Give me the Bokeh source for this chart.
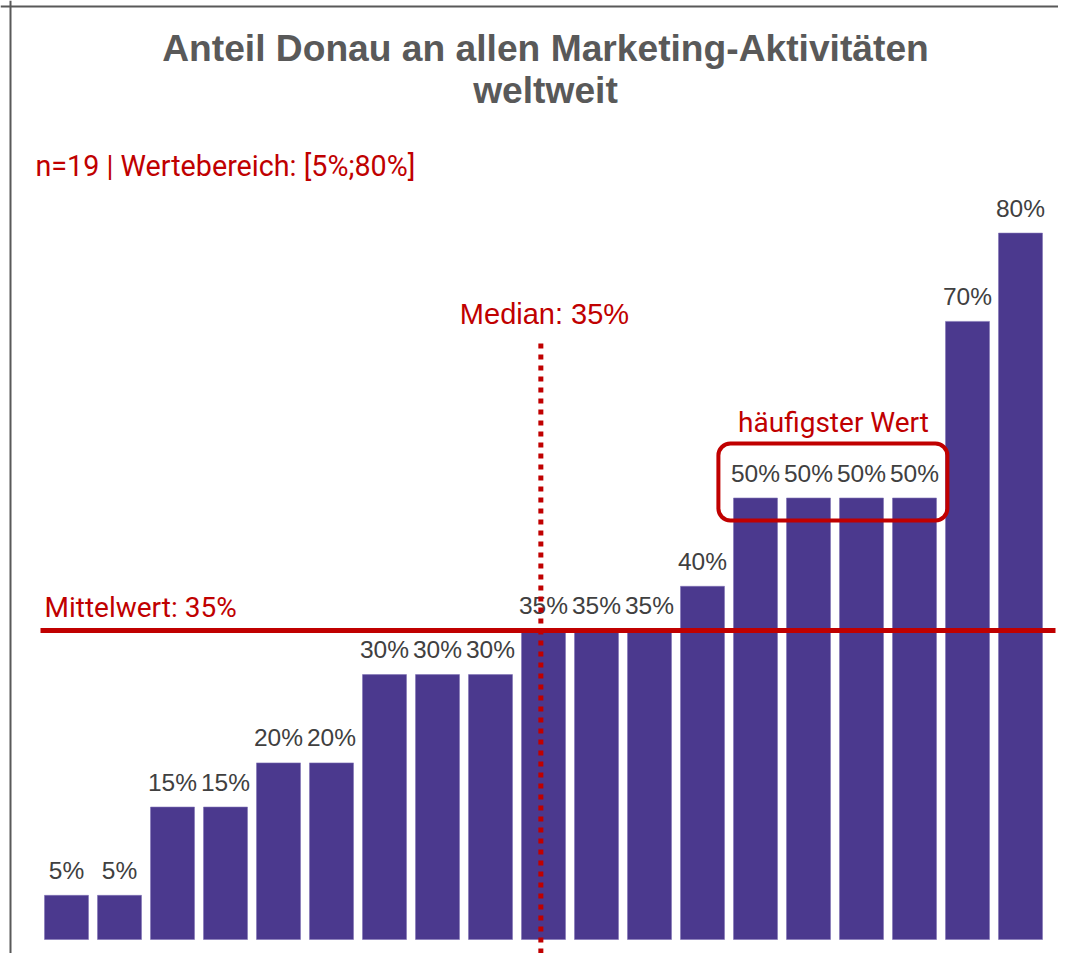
from bokeh.plotting import figure
from bokeh.models import Range1d, Label, BoxAnnotation, Span
from bokeh.core.properties import value
from bokeh.embed import file_html
from bokeh.resources import INLINE

# ---- data ----
values = [5, 5, 15, 15, 20, 20, 30, 30, 30, 35, 35, 35, 40, 50, 50, 50, 50, 70, 80]
positions = list(range(len(values)))
value_labels = [f"{v}%" for v in values]
title_lines = ["Anteil Donau an allen Marketing-Aktivitäten", "weltweit"]
mode_label = "häufigster Wert"

n = len(values)
mean_val = sum(values) / n
median_val = sorted(values)[n // 2]
mode_val = max(set(values), key=values.count)
mode_idx = [i for i, v in enumerate(values) if v == mode_val]

# ---- styling ----
PURPLE = "#4B398E"
RED = "#C00000"
GREY = "#595959"
LABEL_GREY = "#404040"

W, H = 1058, 953
PX_PER_X = 53.0
PX_PER_Y = 8.83
X0 = -66.0 / PX_PER_X      # data x at left edge of plot
BASE_PX = 939.0            # baseline pixel from top

def xd(px):
    return X0 + px / PX_PER_X

def yd(py):
    return (BASE_PX - py) / PX_PER_Y

def yt(py, fs):
    # text baseline correction
    return yd(py - 0.38 * fs)

p = figure(width=W, height=H, output_backend="svg", toolbar_location=None,
           x_range=Range1d(X0, X0 + W / PX_PER_X),
           y_range=Range1d(yd(H), yd(0)),
           min_border=0, min_border_left=0, min_border_right=0,
           min_border_top=0, min_border_bottom=0)
p.axis.visible = False
p.grid.visible = False
p.outline_line_color = None
p.background_fill_color = "white"
p.border_fill_color = "white"

# frame (top and left edges)
p.add_layout(Span(location=xd(10), dimension="height", line_color=GREY, line_width=2))
p.add_layout(Span(location=yd(6), dimension="width", line_color=GREY, line_width=2))

# bars
p.vbar(x=positions, top=values, bottom=0, width=0.83, fill_color=PURPLE,
       line_color="#7F72B5", line_width=0.6)

# value labels
p.text(x=positions, y=values, text=value_labels, text_align="center",
       text_baseline="alphabetic", y_offset=-25, text_color=LABEL_GREY,
       text_font=value("Liberation Sans"), text_font_size="24.5px")

# mean line
p.segment(x0=[xd(40)], x1=[xd(1055)], y0=[mean_val], y1=[mean_val],
          line_color=RED, line_width=5)

# median dotted line
med_pos = positions[n // 2]
p.segment(x0=[med_pos - 0.05], x1=[med_pos - 0.05], y0=[yd(343)], y1=[yd(H + 5)],
          line_color=RED, line_width=5, line_dash="5 6")

# mode box
box = BoxAnnotation(left=min(mode_idx) - 0.7, right=max(mode_idx) + 0.62,
                    top=yd(443), bottom=yd(520), fill_alpha=0, fill_color=None,
                    line_color=RED, line_alpha=1.0, line_width=4, border_radius=12)
p.add_layout(box)

# titles
TFS = 37.2
for txt, py in zip(title_lines, [62, 104]):
    p.add_layout(Label(x=xd(545), y=yt(py, TFS), text=txt, text_align="center",
                       text_baseline="alphabetic", text_color=GREY,
                       text_font="Liberation Sans", text_font_style="bold",
                       text_font_size=f"{TFS}px"))

# subtitle
sub = f"n={n} | Wertebereich: [{min(values)}%;{max(values)}%]"
p.add_layout(Label(x=xd(35), y=yt(176, 28.7), text=sub, text_align="left",
                   text_baseline="alphabetic", text_color=RED,
                   text_font="Roboto", text_font_size="28.7px"))

# mean label
p.add_layout(Label(x=xd(44), y=yt(618, 28), text=f"Mittelwert: {mean_val:.0f}%",
                   text_align="left", text_baseline="alphabetic", text_color=RED,
                   text_font="Roboto", text_font_size="28px"))

# median label
p.add_layout(Label(x=xd(544), y=yt(325, 29), text=f"Median: {median_val}%",
                   text_align="center", text_baseline="alphabetic", text_color=RED,
                   text_font="Liberation Sans", text_font_size="29px"))

# mode label
p.add_layout(Label(x=xd(833), y=yt(433, 28), text=mode_label,
                   text_align="center", text_baseline="alphabetic", text_color=RED,
                   text_font="Roboto", text_font_size="28px"))

open("out.html", "w").write(file_html(p, INLINE))
